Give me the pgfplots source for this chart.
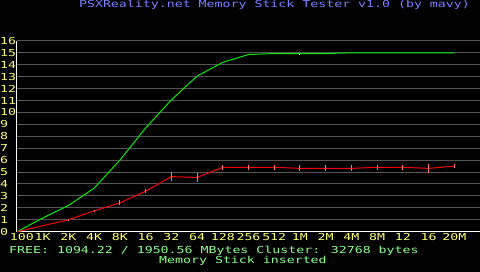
\documentclass[border=0pt]{standalone}
\usepackage{fontspec}
\setmainfont[FakeStretch=1.38]{DejaVu Sans Mono}
\usepackage{pgfplots}
\pgfplotsset{compat=1.18}
\definecolor{titleblue}{RGB}{120,130,255}
\definecolor{tickyellow}{RGB}{255,255,120}
\definecolor{txtgreen}{RGB}{140,255,140}
\definecolor{gridgray}{RGB}{85,85,85}
\definecolor{lgreen}{RGB}{0,235,0}
\definecolor{lred}{RGB}{245,0,0}
\definecolor{epink}{RGB}{255,120,120}

\pgfplotstableread{
x y e
0 0 0
1 1.15 0
2 2.2 0
3 3.65 0
4 6.0 0
5 8.7 0
6 11.05 0
7 13.05 0
8 14.2 0
9 14.86 0
10 14.94 0
11 14.94 0.06
12 14.94 0
13 15.0 0
14 15.0 0
15 15.0 0
16 15.0 0
17 15.0 0
}\greendata

\pgfplotstableread{
x y e
0 0 0
1 0.5 0
2 1.0 0.08
3 1.75 0.08
4 2.42 0.22
5 3.4 0.14
6 4.62 0.38
7 4.55 0.38
8 5.4 0.2
9 5.4 0.2
10 5.4 0.2
11 5.31 0.25
12 5.31 0.25
13 5.31 0.25
14 5.4 0.2
15 5.4 0.2
16 5.31 0.39
17 5.5 0.15
}\reddata

\begin{document}
\fontsize{9.6pt}{11pt}\selectfont
\begin{tikzpicture}
\fill[black] (0,0) rectangle (480pt,272pt);
\begin{axis}[
  scale only axis, width=463pt, height=190.8pt,
  at={(17pt,40.3pt)}, anchor=south west,
  xmin=0, xmax=18, ymin=0, ymax=16,
  axis x line=bottom, axis y line=left,
  axis line style={white, line width=1pt, -},
  xtick={0,...,17},
  xticklabels={\makebox[0pt][l]{\kern-7pt 100},1K,2K,4K,8K,16,32,64,128,256,512,1M,2M,4M,8M,12,16,20M},
  ytick={0,...,16},
  ymajorgrids, grid style={gridgray, line width=1pt},
  major tick length=0pt,
  tick label style={font=\fontsize{9.6pt}{11pt}\selectfont, text=tickyellow},
  /pgf/number format/assume math mode=true,
  yticklabel style={anchor=west, inner sep=0pt, xshift=-17pt},
  xticklabel style={anchor=north, inner sep=0pt, yshift=-1.5pt},
  clip=false,
]
\addplot[lgreen, line width=1pt, mark=none,
  error bars/.cd, y dir=both, y explicit, error mark=none,
  error bar style={color=white!80!green, line width=1pt}]
  table[x=x, y=y, y error=e] {\greendata};
\addplot[lred, line width=1pt, mark=none,
  error bars/.cd, y dir=both, y explicit, error mark=none,
  error bar style={color=epink, line width=1pt}]
  table[x=x, y=y, y error=e] {\reddata};
\end{axis}
\node[anchor=base, text=titleblue, inner sep=0pt] at (274.5pt,264.7pt) {PSXReality.net Memory Stick Tester v1.0 (by mavy)};
\node[anchor=base west, text=txtgreen, inner sep=0pt] at (9pt,18.7pt) {FREE: 1094.22 / 1950.56 MBytes Cluster: 32768 bytes};
\node[anchor=base west, text=txtgreen, inner sep=0pt] at (159pt,8.7pt) {Memory Stick inserted};
\pgfresetboundingbox
\path (0,0) rectangle (480pt,272pt);
\end{tikzpicture}
\end{document}
